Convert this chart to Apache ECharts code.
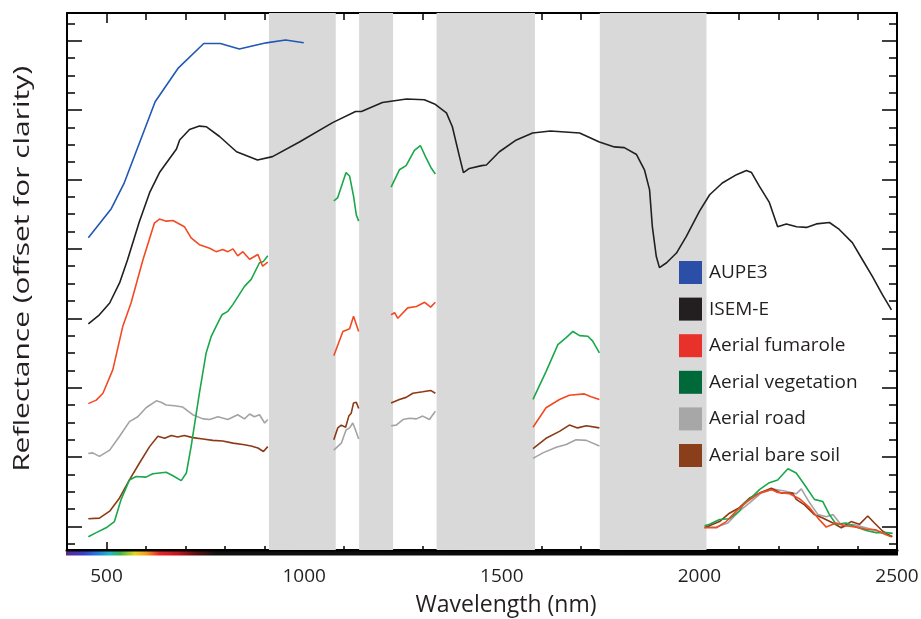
<!DOCTYPE html>
<html><head><meta charset="utf-8">
<script src="https://cdn.jsdelivr.net/npm/echarts/dist/echarts.min.js"></script>
<style>html,body{margin:0;padding:0;background:#fff}#c{width:921px;height:619px}</style>
</head><body><div id="c"></div>
<script>
// ---- data (wavelength nm, offset reflectance, arbitrary units) ----
const bands = [[911,1080],[1139,1225],[1335,1584],[1748,2018]];
const xMajorTicks = [500,1000,1500,2000,2500];
const yMajorTicks = [10,20,30,40,50,60,70,80];

const aupe3 = [[[454,51.6],[512,55.8],[544,59.4],[623,71.2],[682,76.1],[746,79.6],[788,79.6],[836,78.8],[904,79.7],[953,80.1],[999,79.7]]];

const isemWl = [454,482,508,533,553,583,609,634,677,685,710,735,753,786,829,882,920,988,1072,1130,1145,1198,1259,1304,1330,1360,1375,1393,1403,1418,1449,1461,1494,1537,1578,1623,1697,1747,1785,1810,1841,1861,1874,1881,1891,1899,1917,1942,1967,2000,2026,2058,2094,2119,2132,2152,2177,2198,2220,2246,2271,2296,2329,2354,2387,2413,2438,2463,2486];
const isemR = [39.2,40.5,42.2,45.1,48.4,53.9,58.1,61.0,64.4,65.7,67.2,67.7,67.6,66.2,64.0,62.8,63.3,65.4,68.2,69.8,69.8,71.1,71.6,71.5,70.9,69.6,67.6,63.3,61.0,61.6,62.0,62.1,64.0,65.7,66.7,67.0,66.7,65.4,64.7,64.6,63.6,61.4,58.5,53.2,48.9,47.3,48.0,49.4,51.8,55.4,57.8,59.5,60.7,61.3,61.0,59.0,56.7,53.2,53.6,53.2,53.1,53.6,53.8,52.8,50.9,48.4,46.0,43.4,41.2];

const fumarole = [
 [[454,27.7],[474,28.2],[491,29.2],[516,32.6],[541,38.8],[562,42.2],[592,48.4],[621,53.7],[634,54.3],[651,54.0],[668,54.1],[697,53.2],[714,51.6],[735,50.6],[761,50.1],[777,49.6],[794,49.9],[807,49.6],[820,50.0],[832,49.0],[845,49.6],[862,48.5],[883,49.2],[895,47.5],[908,48.1]],
 [[1075,34.6],[1098,38.1],[1115,38.5],[1125,40.3],[1138,38.1]],
 [[1220,40.5],[1229,40.8],[1237,40.0],[1262,41.5],[1284,41.7],[1305,42.3],[1320,41.6],[1332,42.3]],
 [[1579,24.3],[1612,27.1],[1646,28.3],[1671,28.9],[1709,29.1],[1726,28.7],[1747,28.3]],
 [[2013,9.8],[2043,9.8],[2068,10.7],[2093,12.2],[2122,13.6],[2152,14.8],[2182,15.3],[2198,14.9],[2228,14.7],[2253,14.0],[2279,12.7],[2300,11.2],[2321,9.9],[2346,10.5],[2371,10.1],[2397,9.9],[2422,9.6],[2447,9.5],[2473,8.8],[2485,8.5]]
];
const vegetation = [
 [[454,8.5],[474,9.1],[499,9.8],[520,10.7],[537,13.9],[558,16.7],[575,17.2],[600,17.1],[617,17.6],[651,17.8],[668,17.3],[689,16.6],[702,17.7],[714,21.5],[735,29.2],[752,35.0],[765,37.4],[777,38.8],[792,40.5],[807,41.0],[820,42.0],[849,44.6],[866,45.6],[887,48.0],[897,48.2],[908,49.0]],
 [[1075,56.9],[1085,57.4],[1106,61.0],[1115,60.5],[1125,57.6],[1132,54.9],[1138,54.0]],
 [[1220,58.9],[1241,61.4],[1258,62.0],[1279,64.2],[1294,64.9],[1307,63.3],[1321,61.7],[1332,60.8]],
 [[1579,28.3],[1612,32.3],[1642,36.2],[1663,37.2],[1680,38.1],[1697,37.5],[1718,37.4],[1730,36.7],[1747,35.0]],
 [[2013,10.1],[2026,10.3],[2051,11.0],[2076,11.1],[2101,12.2],[2114,13.4],[2127,13.9],[2152,15.3],[2177,16.3],[2198,16.7],[2224,18.3],[2245,17.7],[2266,16.0],[2291,13.9],[2312,13.6],[2329,11.7],[2346,10.3],[2371,10.5],[2397,9.9],[2422,9.4],[2447,9.1],[2473,9.1],[2489,9.0]]
];
const road = [
 [[454,20.5],[465,20.6],[482,20.1],[508,21.0],[533,23.0],[558,25.1],[579,25.8],[600,27.1],[626,28.1],[638,27.9],[651,27.5],[672,27.4],[693,27.2],[718,26.1],[744,25.5],[761,25.4],[782,25.8],[807,25.4],[832,26.1],[849,25.5],[862,26.2],[874,25.8],[887,26.1],[900,24.9],[908,25.4]],
 [[1075,21.0],[1094,22.0],[1106,23.9],[1115,24.2],[1123,24.9],[1130,23.9],[1138,22.6]],
 [[1220,24.5],[1233,24.6],[1250,25.4],[1267,25.6],[1284,25.5],[1300,25.9],[1317,25.4],[1332,26.6]],
 [[1579,19.8],[1604,20.6],[1638,21.4],[1663,21.8],[1688,22.5],[1714,22.4],[1747,21.6]],
 [[2013,9.9],[2043,9.9],[2072,10.5],[2101,12.2],[2127,13.4],[2156,14.8],[2186,15.4],[2215,15.1],[2245,14.7],[2258,15.4],[2279,13.4],[2300,11.7],[2321,11.4],[2338,11.7],[2363,9.9],[2388,10.3],[2414,9.9],[2447,9.4],[2473,8.8],[2488,8.6]]
];
const bareSoil = [
 [[454,11.1],[482,11.2],[508,12.2],[533,14.1],[558,16.7],[583,19.1],[609,21.5],[630,23.0],[647,22.7],[664,23.1],[680,22.9],[697,23.1],[718,22.8],[744,22.6],[769,22.4],[794,22.3],[820,22.0],[845,21.8],[866,21.6],[883,21.3],[897,20.8],[908,21.5]],
 [[1075,22.5],[1085,24.2],[1094,24.6],[1105,24.3],[1113,25.9],[1119,26.3],[1125,27.8],[1132,27.9],[1138,27.0]],
 [[1220,27.8],[1241,28.3],[1258,28.6],[1275,29.2],[1300,29.4],[1320,29.6],[1332,29.2]],
 [[1579,21.2],[1612,22.7],[1646,23.7],[1671,24.6],[1692,24.2],[1714,24.5],[1747,24.2]],
 [[2013,9.8],[2051,10.7],[2076,11.9],[2101,12.7],[2127,14.1],[2152,14.8],[2182,15.5],[2207,14.8],[2236,14.8],[2245,13.9],[2266,13.1],[2291,11.7],[2312,11.2],[2338,10.5],[2359,9.8],[2384,10.7],[2405,10.3],[2426,11.5],[2443,10.5],[2464,9.3],[2488,8.5]]
];

// ---- build ----
const FONT = '"Open Sans", sans-serif';
const TXT = '#231f20';
const X_MIN = 400, X_MAX = 2500, Y_MIN = 6.6, Y_MAX = 84;
const xMinorTicks = []; for (let v = 400; v <= 2500; v += 100) xMinorTicks.push(v);
const yMinorTicks = []; for (let v = 7.5; v <= 83; v += 2.5) yMinorTicks.push(v);

function joinSegs(segs) {
  const out = [];
  segs.forEach((s, i) => { if (i > 0) out.push([s[0][0], null]); s.forEach(p => out.push(p)); });
  return out;
}
function lineSeries(name, color, data, z) {
  return { name, type: 'line', data, showSymbol: false, symbol: 'none', connectNulls: false,
    lineStyle: { color, width: 1.6 }, itemStyle: { color }, z, silent: true, animation: false };
}
const axisCommon = { type: 'value', min: X_MIN, max: X_MAX, splitLine: { show: false } };
const yCommon = { type: 'value', min: Y_MIN, max: Y_MAX, splitLine: { show: false }, axisLabel: { show: false } };
const tickStyle = { color: '#000', width: 1.5 };

const option = {
  animation: false,
  grid: { left: 67, right: 24, top: 13, bottom: 69, containLabel: false, outerBoundsMode: 'none' },
  graphic: [{
    type: 'text', left: 12, top: 66, silent: true,
    rotation: Math.PI / 2, scaleX: 1.36, originX: 0, originY: 0,
    style: { text: 'Reflectance (offset for clarity)', font: '22px "Open Sans", sans-serif', fill: TXT }
  }],
  xAxis: [
    Object.assign({}, axisCommon, { position: 'bottom',
      axisLine: { show: true, onZero: false, lineStyle: { color: '#000', width: 3 } },
      axisTick: { show: true, inside: true, length: 8, customValues: xMajorTicks, lineStyle: tickStyle },
      axisLabel: { show: true, customValues: xMajorTicks, margin: 17, fontSize: 19, fontFamily: FONT, color: TXT,
        formatter: v => String(v) },
      name: 'Wavelength (nm)', nameLocation: 'middle', nameGap: 44,
      nameTextStyle: { fontSize: 23, fontFamily: FONT, color: TXT, padding: [0, 0, 0, 48] } }),
    Object.assign({}, axisCommon, { position: 'bottom', axisLine: { show: false, onZero: false },
      axisTick: { show: true, inside: true, length: 4, customValues: xMinorTicks, lineStyle: tickStyle },
      axisLabel: { show: false } }),
    Object.assign({}, axisCommon, { position: 'top',
      axisLine: { show: true, onZero: false, lineStyle: { color: '#000', width: 2 } },
      axisTick: { show: true, inside: true, length: 10, customValues: xMajorTicks, lineStyle: tickStyle },
      axisLabel: { show: false } }),
    Object.assign({}, axisCommon, { position: 'top', axisLine: { show: false, onZero: false },
      axisTick: { show: true, inside: true, length: 7, customValues: xMinorTicks, lineStyle: tickStyle },
      axisLabel: { show: false } })
  ],
  yAxis: [
    Object.assign({}, yCommon, { position: 'left',
      axisLine: { show: true, onZero: false, lineStyle: { color: '#000', width: 2 } },
      axisTick: { show: true, inside: true, length: 15, customValues: yMajorTicks, lineStyle: tickStyle } }),
    Object.assign({}, yCommon, { position: 'left', axisLine: { show: false, onZero: false },
      axisTick: { show: true, inside: true, length: 8, customValues: yMinorTicks, lineStyle: tickStyle } }),
    Object.assign({}, yCommon, { position: 'right',
      axisLine: { show: true, onZero: false, lineStyle: { color: '#000', width: 2 } },
      axisTick: { show: true, inside: true, length: 15, customValues: yMajorTicks, lineStyle: tickStyle } }),
    Object.assign({}, yCommon, { position: 'right', axisLine: { show: false, onZero: false },
      axisTick: { show: true, inside: true, length: 8, customValues: yMinorTicks, lineStyle: tickStyle } })
  ],
  legend: {
    orient: 'vertical', left: 679, top: 261, padding: 0, itemWidth: 23, itemHeight: 23, itemGap: 13.6,
    icon: 'rect', selectedMode: false,
    textStyle: { fontSize: 19, fontFamily: FONT, color: TXT, padding: [10, 0, 0, 2] },
    data: [
      { name: 'AUPE3', itemStyle: { color: '#2b4fa6' } },
      { name: 'ISEM-E', itemStyle: { color: '#231f20' } },
      { name: 'Aerial fumarole', itemStyle: { color: '#e8312a' } },
      { name: 'Aerial vegetation', itemStyle: { color: '#00693a' } },
      { name: 'Aerial road', itemStyle: { color: '#a7a7a7' } },
      { name: 'Aerial bare soil', itemStyle: { color: '#8b3e1a' } }
    ]
  },
  series: [
    { name: 'bands', type: 'line', data: [], z: 1, silent: true,
      markArea: { silent: true, itemStyle: { color: '#d9d9d9' },
        data: bands.map(b => [{ xAxis: b[0] }, { xAxis: b[1] }]) } },
    lineSeries('ISEM-E', '#231f20', isemWl.map((w, i) => [w, isemR[i]]), 3),
    lineSeries('AUPE3', '#2058b4', joinSegs(aupe3), 3),
    lineSeries('Aerial road', '#a3a3a3', joinSegs(road), 4),
    lineSeries('Aerial bare soil', '#8b3a16', joinSegs(bareSoil), 5),
    lineSeries('Aerial vegetation', '#1aa84a', joinSegs(vegetation), 6),
    lineSeries('Aerial fumarole', '#f24b24', joinSegs(fumarole), 7),
    { type: 'custom', z: 20, silent: true, clip: false, data: [[X_MIN, Y_MIN, X_MAX]],
      renderItem: function (params, api) {
        const p0 = api.coord([api.value(0), api.value(1)]);
        const p1 = api.coord([api.value(2), api.value(1)]);
        return { type: 'rect', shape: { x: p0[0] - 1, y: p0[1] + 1.5, width: p1[0] - p0[0] + 2, height: 4 },
          style: { fill: new echarts.graphic.LinearGradient(0, 0, 1, 0, [
            { offset: 0, color: '#5a2a8a' }, { offset: 0.022, color: '#3a3fcf' },
            { offset: 0.04, color: '#1f86e0' }, { offset: 0.052, color: '#21b6cc' },
            { offset: 0.065, color: '#3db34a' }, { offset: 0.083, color: '#e8d51f' },
            { offset: 0.097, color: '#f59a1e' }, { offset: 0.112, color: '#e8262a' },
            { offset: 0.135, color: '#c0141e' }, { offset: 0.155, color: '#5e1010' },
            { offset: 0.18, color: '#111' }, { offset: 1, color: '#000' } ]) } };
      } }
  ]
};
const chart = echarts.init(document.getElementById('c'), null, { renderer: 'canvas' });
chart.setOption(option);
</script></body></html>
